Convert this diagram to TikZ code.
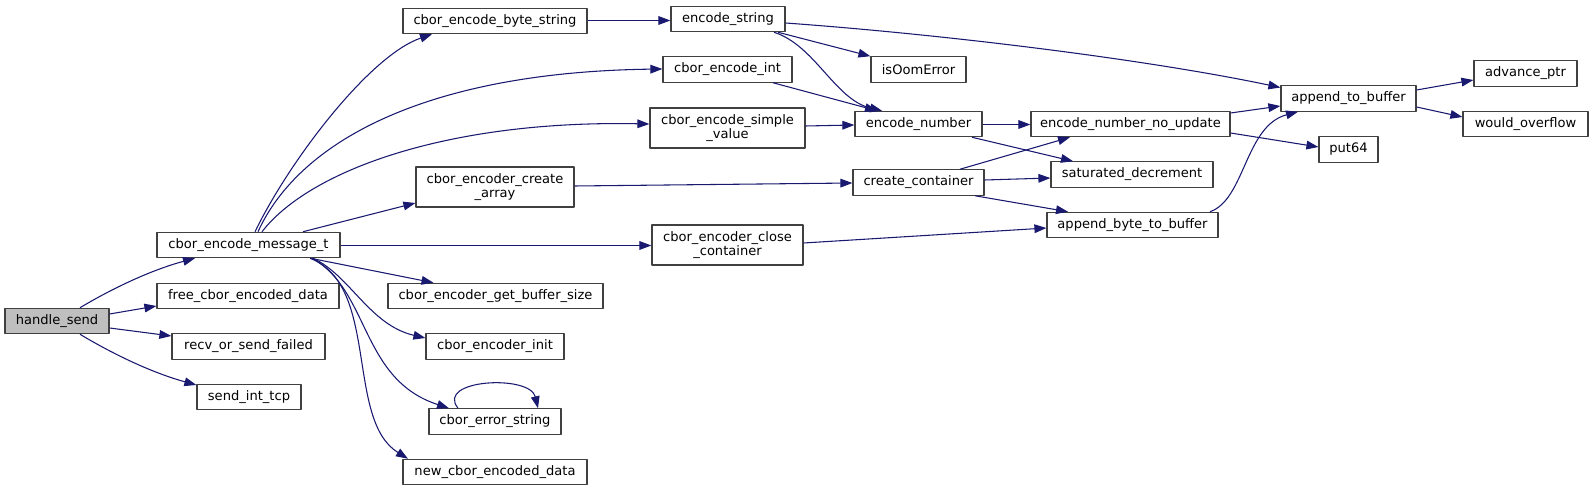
\documentclass[tikz,border=0pt]{standalone}
\usepackage{fontspec}
\setmainfont{DejaVu Sans}
\usetikzlibrary{calc, positioning}
\usetikzlibrary{arrows.meta}

\definecolor{edgeblue}{HTML}{191970}
\definecolor{boxgrey}{HTML}{404040}
\definecolor{rootgrey}{HTML}{BFBFBF}

\tikzset{
  fn/.style={draw=boxgrey, line width=0.9pt, fill=white, inner sep=0pt,
    minimum height=19pt, align=center, font=\fontsize{9.8}{10.7}\selectfont},
  fntwo/.style={fn, minimum height=30pt},
  root/.style={fn, fill=rootgrey},
  wd/.style={minimum width=#1*0.75pt},
  call/.style={draw=edgeblue, line width=0.8pt, -{Triangle[length=9pt, width=6.5pt]}}
}

\begin{document}
\begin{tikzpicture}[x=0.75pt, y=-0.75pt, line join=round]
\useasboundingbox (0,0) rectangle (1593,491);

% Caller
\node[root, wd=104] (hs) at (57,321) {handle\_send};

% Called by handle_send
\node[fn, wd=183] (msg) at (248.5,245) {cbor\_encode\_message\_t};
\node[fn, wd=182] (free) at (248,296) {free\_cbor\_encoded\_data};
\node[fn, wd=153] (recv) at (248.5,346.5) {recv\_or\_send\_failed};
\node[fn, wd=104] (tcp) at (249,397) {send\_int\_tcp};

% Called by cbor_encode_message_t
\node[fn, wd=184] (bytestr) at (495,21) {cbor\_encode\_byte\_string};
\node[fntwo, wd=158] (carray) at (495,187) {cbor\_encoder\_create\\\_array};
\node[fn, wd=215] (bufsize) at (495.5,296) {cbor\_encoder\_get\_buffer\_size};
\node[fn, wd=138] (init) at (495,346.5) {cbor\_encoder\_init};
\node[fn, wd=132] (errstr) at (495,421.5) {cbor\_error\_string};
\node[fn, wd=184] (newdata) at (495,472) {new\_cbor\_encoded\_data};
\node[fn, wd=114] (encstr) at (728,19) {encode\_string};
\node[fn, wd=129] (encint) at (727.5,69.5) {cbor\_encode\_int};
\node[fntwo, wd=155] (simple) at (727.5,128) {cbor\_encode\_simple\\\_value};
\node[fntwo, wd=151] (close) at (727.5,245) {cbor\_encoder\_close\\\_container};

% Encoding helpers
\node[fn, wd=95] (oom) at (918.5,69.5) {isOomError};
\node[fn, wd=127] (encnum) at (918.5,124) {encode\_number};
\node[fn, wd=131] (ccont) at (918.5,182.5) {create\_container};
\node[fn, wd=199] (nupd) at (1130.5,124) {encode\_number\_no\_update};
\node[fn, wd=162] (satdec) at (1132,174.5) {saturated\_decrement};
\node[fn, wd=171] (abyte) at (1132.5,225) {append\_byte\_to\_buffer};
\node[fn, wd=135] (abuf) at (1348.5,98.5) {append\_to\_buffer};
\node[fn, wd=59] (put64) at (1348.5,149.5) {put64};
\node[fn, wd=103] (adv) at (1525.5,73.5) {advance\_ptr};
\node[fn, wd=125] (wover) at (1525.5,124) {would\_overflow};

% Calls from handle_send
\draw[call] ($(hs.north)+(23,0)$) .. controls +(30,-18) and +(-45,12) .. ($(msg.south)+(-53.5,0)$);
\draw[call] ($(hs.east)+(0,-7)$) -- ($(free.west)+(0,10)$);
\draw[call] ($(hs.east)+(0,7)$) -- ($(recv.west)+(0,-10.5)$);
\draw[call] ($(hs.south)+(23,0)$) .. controls +(30,18) and +(-47,-13) .. ($(tcp.west)+(0,-12)$);

% Calls from cbor_encode_message_t
\draw[call] ($(msg.north)+(6.5,0)$) .. controls +(35,-72) and +(-62,21) .. ($(bytestr.south)+(-63,0)$);
\draw[call] ($(msg.north)+(9.5,0)$) .. controls +(42,-92) and +(-233,3) .. ($(encint.west)+(0,-0.5)$);
\draw[call] ($(msg.north)+(13.5,0)$) .. controls +(48,-62) and +(-200,-4) .. ($(simple.west)+(0,-4)$);
\draw[call] ($(msg.north)+(54.5,0)$) -- ($(carray.west)+(0,16)$);
\draw[call] ($(msg.east)+(0,0.5)$) -- ($(close.west)+(0,0.5)$);
\draw[call] ($(msg.south)+(62,0)$) -- ($(bufsize.north)+(-62,0)$);
\draw[call] ($(msg.south)+(64.5,0)$) .. controls +(37,17) and +(-56,-13) .. ($(init.west)+(0,-8.5)$);
\draw[call] ($(msg.south)+(63.5,0)$) .. controls +(58,32) and +(-89,-29) .. ($(errstr.north)+(-46,0)$);
\draw[call] ($(msg.south)+(61.5,0)$) .. controls +(70,27) and +(-63,-39) .. ($(newdata.north)+(-87,0)$);
\draw[call] ($(errstr.north)+(-37,0)$) .. controls +(-23,-29) and +(-8,-34) .. ($(errstr.north)+(43,0)$);

% Calls further right
\draw[call] ($(bytestr.east)+(0,-0.5)$) -- ($(encstr.west)+(0,1.5)$);
\draw[call] ($(encstr.east)+(0,4)$) .. controls +(165,12) and +(-131,-27.5) .. ($(abuf.west)+(0,-11)$);
\draw[call] ($(encstr.south)+(50,0)$) -- (oom.north west);
\draw[call] ($(encstr.south)+(46,0)$) .. controls +(41,13) and +(-47,-11) .. ($(encnum.north)+(-36.5,0)$);
\draw[call] ($(encint.south)+(45.5,0)$) -- ($(encnum.north)+(-41.5,0)$);
\draw[call] ($(simple.east)+(0,-2)$) -- ($(encnum.west)+(0,1)$);
\draw[call] ($(carray.east)+(0,-1)$) -- ($(ccont.west)+(0,0.5)$);
\draw[call] ($(close.east)+(0,-2)$) -- ($(abyte.west)+(0,3)$);
\draw[call] ($(encnum.east)+(0,0.5)$) -- ($(nupd.west)+(0,0.5)$);
\draw[call] ($(encnum.south)+(53.5,0)$) -- ($(satdec.north)+(-59,0)$);
\draw[call] ($(ccont.north)+(41.5,0)$) -- ($(nupd.south)+(-60.5,0)$);
\draw[call] ($(ccont.east)+(0,-2.5)$) -- ($(satdec.west)+(0,3.5)$);
\draw[call] ($(ccont.south)+(56.5,0)$) -- ($(abyte.north)+(-64.5,0)$);
\draw[call] ($(nupd.east)+(0,-11)$) -- ($(abuf.west)+(0,7.5)$);
\draw[call] ($(nupd.east)+(0,9)$) -- ($(put64.west)+(0,-2.5)$);
\draw[call] ($(abyte.north)+(77.5,0)$) .. controls +(35,-12) and +(-53,14) .. ($(abuf.south)+(-50.5,0)$);
\draw[call] ($(abuf.east)+(0,-8.5)$) -- ($(adv.west)+(0,6.5)$);
\draw[call] ($(abuf.east)+(0,8.5)$) -- ($(wover.west)+(0,-7)$);
\end{tikzpicture}
\end{document}
